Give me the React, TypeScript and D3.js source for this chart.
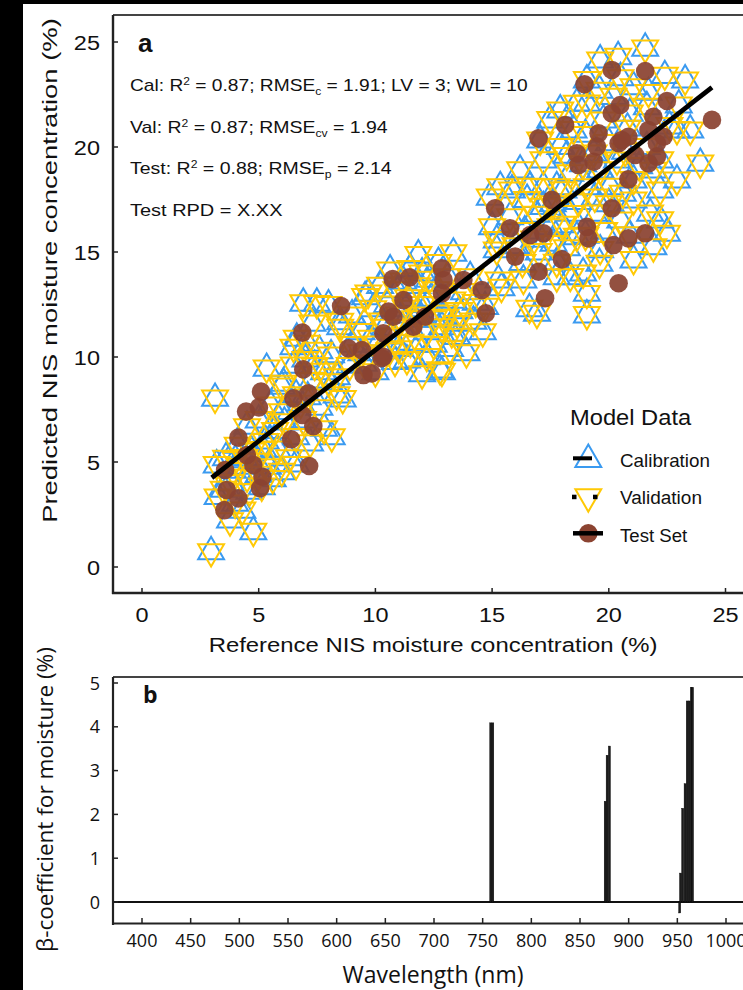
import React, { useLayoutEffect, useRef, useState } from 'react';
import * as d3 from 'd3';

// [reference, predicted in calibration, predicted in cross-validation] (moisture %)
const modelSamples: [number, number, number][] = [
  [2.96, 0.73, 0.73], [4.77, 1.68, 1.7], [3.77, 2.24, 2.2], [3.99, 3.03, 3.05], [4.3, 2.7, 2.72],
  [3.24, 3.35, 3.33], [3.5, 3.7, 3.7], [5.13, 3.82, 3.86], [3.8, 4.0, 4.02], [4.5, 4.3, 4.28],
  [3.2, 4.86, 4.88], [3.6, 5.2, 5.18], [4.2, 4.8, 4.8], [4.9, 5.0, 5.04], [5.4, 4.8, 4.78],
  [5.6, 4.2, 4.22], [5.99, 4.54, 4.56], [6.6, 4.9, 4.88], [4.1, 5.8, 5.8], [4.7, 5.5, 5.52],
  [5.3, 6.0, 5.98], [5.8, 5.6, 5.62], [6.3, 5.2, 5.2], [6.6, 6.2, 6.22], [4.5, 6.7, 6.68],
  [5.0, 7.0, 7.02], [7.2, 5.9, 5.92], [8.13, 6.2, 6.2], [7.8, 6.6, 6.58], [3.13, 8.03, 8.05],
  [5.5, 7.7, 7.72], [6.0, 7.4, 7.4], [6.9, 7.0, 7.02], [7.6, 7.6, 7.58], [8.34, 8.19, 8.2],
  [5.99, 8.6, 8.62], [6.6, 8.2, 8.2], [7.3, 8.9, 8.88], [8.6, 8.0, 8.02], [5.34, 9.46, 9.48],
  [6.06, 8.75, 8.75], [6.5, 9.6, 9.62], [7.0, 9.9, 9.88], [7.8, 9.3, 9.32], [8.34, 9.06, 9.06],
  [6.63, 10.89, 10.9], [6.49, 10.49, 10.47], [7.06, 10.65, 10.66], [7.6, 10.3, 10.32], [8.1, 10.1, 10.1],
  [8.49, 11.68, 11.7], [8.49, 11.44, 11.42], [7.3, 11.6, 11.62], [6.91, 12.56, 12.58], [7.49, 12.56, 12.55],
  [7.99, 12.48, 12.5], [3.9, 4.6, 4.6], [4.4, 5.2, 5.22], [5.0, 4.4, 4.42], [4.6, 3.6, 3.6],
  [5.2, 5.6, 5.6], [4.0, 5.1, 5.12], [5.7, 6.5, 6.5], [6.1, 6.9, 6.92], [6.8, 7.8, 7.8],
  [7.1, 8.1, 8.1], [7.4, 9.6, 9.6], [8.0, 8.8, 8.82],
  [8.9, 9.6, 9.6], [9.5, 9.7, 9.72], [9.0, 10.6, 10.6], [9.4, 11.2, 11.22], [9.0, 12.0, 12.0],
  [9.56, 12.87, 12.88], [9.7, 13.03, 13.05], [10.0, 9.3, 9.3], [10.1, 10.6, 10.62], [10.6, 10.3, 10.3],
  [10.84, 9.78, 9.8], [10.7, 11.0, 11.0], [10.3, 11.7, 11.72], [11.0, 12.0, 12.0], [10.5, 12.5, 12.52],
  [10.9, 13.2, 13.2], [10.2, 13.4, 13.42], [10.63, 14.14, 14.15], [11.35, 9.86, 9.88], [11.5, 10.7, 10.7],
  [12.2, 10.01, 10.03], [12.0, 9.2, 9.2], [12.77, 9.38, 9.4], [12.2, 11.2, 11.2], [11.7, 11.8, 11.82],
  [12.0, 12.5, 12.5], [11.4, 12.8, 12.82], [11.8, 13.4, 13.4], [11.5, 14.2, 14.22], [11.84, 14.86, 14.88],
  [12.6, 13.2, 13.2], [13.1, 13.8, 13.82], [12.7, 14.5, 14.5], [13.34, 14.94, 14.96], [12.9, 12.1, 12.1],
  [13.3, 12.7, 12.72], [13.5, 11.6, 11.6], [13.27, 11.13, 11.15], [12.85, 11.44, 11.44], [13.49, 10.97, 10.99],
  [13.2, 10.4, 10.4], [12.85, 9.3, 9.32], [13.9, 10.2, 10.2], [14.2, 11.7, 11.72], [14.6, 11.2, 11.2],
  [14.7, 12.4, 12.42], [14.3, 12.6, 12.6], [13.8, 13.1, 13.12], [14.06, 13.82, 13.82], [15.4, 13.3, 13.32],
  [9.8, 10.9, 10.9], [10.4, 11.4, 11.42], [11.1, 11.4, 11.4], [11.3, 12.3, 12.32], [11.9, 12.0, 12.0],
  [12.4, 12.8, 12.8], [12.5, 11.8, 11.82], [11.0, 10.4, 10.4], [11.9, 10.6, 10.62], [12.5, 10.6, 10.6],
  [13.0, 11.9, 11.9], [13.6, 12.2, 12.22], [12.3, 13.7, 13.7], [11.2, 13.6, 13.62], [9.9, 12.3, 12.3],
  [9.4, 10.2, 10.2], [12.0, 14.0, 14.0],
  [15.2, 15.1, 15.1], [15.2, 15.57, 15.6], [15.0, 16.2, 16.2], [14.9, 17.6, 17.62], [15.27, 13.67, 13.67],
  [16.34, 13.67, 13.7], [16.92, 12.08, 12.08], [16.6, 12.3, 12.32], [17.77, 13.82, 13.82], [18.35, 13.82, 13.84],
  [19.06, 13.03, 13.03], [19.06, 12.0, 12.02], [19.6, 14.46, 14.46], [21.06, 14.62, 14.64], [17.77, 14.51, 14.51],
  [15.85, 17.95, 17.95], [16.63, 18.11, 18.13], [17.2, 18.11, 18.11], [18.06, 17.95, 17.97], [15.35, 18.11, 18.11],
  [16.2, 18.9, 18.92], [15.77, 16.68, 16.68], [17.2, 17.16, 17.18], [18.35, 16.84, 16.84], [19.49, 16.84, 16.86],
  [20.49, 16.52, 16.52], [18.63, 15.73, 15.75], [17.63, 15.41, 15.41], [19.63, 15.1, 15.12], [21.91, 15.25, 15.25],
  [22.2, 16.52, 16.54], [22.49, 15.89, 15.89], [21.77, 16.84, 16.86], [22.92, 18.43, 18.43], [23.92, 19.22, 19.24],
  [23.49, 20.81, 20.81], [22.92, 20.81, 20.83], [23.27, 23.19, 23.19], [21.56, 24.7, 24.72], [19.63, 24.14, 24.14],
  [19.06, 23.19, 23.21], [17.92, 21.76, 21.76], [17.49, 21.29, 21.31], [17.06, 20.33, 20.33], [17.2, 19.38, 19.4],
  [18.63, 22.08, 22.08], [20.2, 22.4, 22.42], [21.06, 22.87, 22.87], [21.63, 21.92, 21.94], [21.91, 18.9, 18.9],
  [21.06, 18.43, 18.45], [22.2, 17.95, 17.95], [20.06, 18.11, 18.13], [19.06, 18.11, 18.11], [18.35, 18.75, 18.77],
  [17.77, 18.11, 18.11], [19.35, 19.7, 19.72], [20.35, 19.38, 19.38], [19.63, 18.9, 18.92], [17.92, 20.02, 20.02],
  [18.49, 20.81, 20.83], [19.77, 21.29, 21.29], [19.06, 22.08, 22.1], [21.63, 20.02, 20.02], [22.2, 19.38, 19.4],
  [21.06, 17.48, 17.48], [16.4, 16.0, 16.02], [16.9, 16.8, 16.8], [18.0, 16.3, 16.32], [20.0, 17.3, 17.3],
  [20.9, 15.8, 15.82], [23.0, 22.0, 22.0], [22.4, 23.4, 23.42], [20.5, 23.3, 23.3], [22.6, 21.0, 21.02],
  [20.8, 20.9, 20.9], [20.4, 24.3, 24.32], [16.3, 14.5, 14.5], [17.0, 15.0, 15.02], [18.9, 14.0, 14.0],
  [16.0, 15.3, 15.3], [16.8, 15.6, 15.62], [17.5, 16.2, 16.2], [18.2, 15.2, 15.2], [19.0, 15.8, 15.8],
  [19.8, 16.0, 16.02], [20.6, 17.8, 17.8], [19.4, 17.6, 17.62], [18.7, 17.4, 17.4], [17.6, 17.3, 17.3],
  [18.9, 19.2, 19.2], [20.0, 20.2, 20.22], [19.0, 20.6, 20.6], [20.9, 21.6, 21.62], [19.6, 22.7, 22.7],
  [18.2, 19.6, 19.6], [21.3, 19.1, 19.12], [16.5, 17.5, 17.5], [21.7, 22.6, 22.6], [20.7, 19.8, 19.8],
];

// [reference, predicted] for the independent test set
const testSet: [number, number][] = [
  [3.53, 2.71], [4.13, 3.27], [3.63, 3.67], [5.06, 3.75], [5.16, 4.3], [3.56, 4.62], [4.77, 4.86],
  [4.49, 5.33], [4.13, 6.16], [7.16, 4.81], [6.39, 6.08], [7.34, 6.71], [6.87, 7.24], [4.46, 7.4],
  [5.01, 7.6], [6.49, 8.03], [7.13, 8.27], [5.1, 8.35], [6.91, 9.41], [6.87, 11.16], [8.53, 12.43],
  [8.84, 10.41], [9.42, 10.33], [9.49, 9.14], [9.84, 9.22], [10.27, 9.94], [10.34, 11.13], [10.77, 11.92],
  [10.56, 12.16], [11.2, 12.71], [11.63, 11.44], [12.13, 11.92], [12.85, 13.03], [10.74, 13.71], [11.46, 13.79],
  [12.85, 14.22], [12.92, 13.67], [13.77, 13.67], [14.56, 13.19], [14.73, 12.08], [15.13, 17.08], [15.77, 16.13],
  [15.99, 14.78], [16.63, 15.81], [17.2, 15.89], [16.99, 14.06], [17.27, 12.8], [17.56, 17.48], [17.99, 14.65],
  [19.06, 16.2], [19.13, 15.65], [20.13, 17.08], [20.2, 15.33], [20.84, 15.65], [21.56, 15.89], [20.42, 13.51],
  [20.13, 23.67], [21.56, 23.62], [18.96, 22.99], [22.49, 22.19], [20.49, 22.0], [20.13, 21.6], [21.91, 21.44],
  [24.42, 21.29], [18.13, 21.05], [16.99, 20.41], [19.56, 20.65], [20.84, 20.49], [20.42, 20.18], [19.49, 20.02],
  [21.7, 20.81], [22.35, 20.49], [22.06, 20.18], [18.63, 19.7], [18.7, 19.14], [19.35, 19.3], [21.13, 19.62],
  [21.7, 19.22], [22.06, 19.54], [20.84, 18.46], [20.56, 20.33], [10.34, 10.01],
];

const fitLine: [number, number][] = [[2.99, 4.25], [24.42, 22.84]];
const moistureTicks = [0, 5, 10, 15, 20, 25];

// [wavelength nm, beta coefficient]
const betaBars: [number, number][] = [
  [758.3, 4.09], [760.4, 4.09], [875.9, 2.3], [877.9, 3.35], [880.2, 3.56],
  [952.4, -0.25], [953.3, 0.66], [955.5, 2.14], [958.0, 2.7], [960.2, 4.59],
  [962.3, 4.59], [964.4, 4.9], [965.6, 4.9],
];
const wavelengthTicks = [400, 450, 500, 550, 600, 650, 700, 750, 800, 850, 900, 950, 1000];
const betaTicks = [0, 1, 2, 3, 4, 5];

const W = 743;
const H = 990;
const SANS = 'Liberation Sans, Arial, sans-serif';
const OPEN = '"Open Sans", "DejaVu Sans", sans-serif';
const BLUE = '#3a9af0';
const YELLOW = '#ffc905';
const BROWN = '#8b4331';

// panel a
const xA = d3.scaleLinear().domain([0, 25]).range([142, 725.5]);
const yA = d3.scaleLinear().domain([0, 25]).range([567, 42]);
// panel b
const xB = d3.scaleLinear().domain([400, 1000]).range([142, 726]);
const yB = d3.scaleLinear().domain([0, 5]).range([902, 683]);

const tri = d3.symbol().type(d3.symbolTriangle).size(290)() as string;
const line = d3.line<[number, number]>().x(d => xA(d[0])).y(d => yA(d[1]));

// text stretched horizontally to a measured width
const FitText = ({ x, y, width, rotate = 0, anchor = 'start', size, family, weight = 'normal', children }: any) => {
  const ref = useRef<SVGTextElement>(null);
  const [k, setK] = useState(1);
  useLayoutEffect(() => {
    const w = ref.current ? ref.current.getBBox().width : 0;
    if (w > 0) setK(width / w);
  }, [width]);
  return (
    <g transform={`translate(${x},${y}) rotate(${rotate}) scale(${k},1)`}>
      <text ref={ref} textAnchor={anchor} fontSize={size} fontFamily={family} fontWeight={weight} fill="#111">
        {children}
      </text>
    </g>
  );
};

// one stats line: head R^2 mid RMSE_sub tail
const StatLine = ({ y, width, head, r2, sub, tail }: any) => (
  <FitText x={130} y={y} width={width} size={16} family={SANS}>
    <tspan>{head}</tspan>
    <tspan dy={-6} fontSize={10}>2</tspan>
    <tspan dy={6}>{` = ${r2}; RMSE`}</tspan>
    <tspan dy={4} fontSize={10}>{sub}</tspan>
    <tspan dy={-4}>{tail}</tspan>
  </FitText>
);

export default function App() {
  return (
    <svg width={W} height={H} style={{ position: 'absolute', left: 0, top: 0, display: 'block' }}>
      <rect width={W} height={H} fill="#000" />
      <rect x={23} y={4} width={W - 23} height={H - 4} fill="#fff" />

      {/* ---------- panel a ---------- */}
      <line x1={113} x2={W} y1={15} y2={15} stroke="#444" strokeWidth={1.8} />
      <line x1={113} x2={113} y1={15} y2={594} stroke="#222" strokeWidth={2.4} />
      <line x1={112} x2={W} y1={593} y2={593} stroke="#222" strokeWidth={2.4} />
      {moistureTicks.map(t => (
        <g key={'ya' + t}>
          <line x1={113} x2={118} y1={yA(t)} y2={yA(t)} stroke="#222" strokeWidth={1.5} />
          <text transform={`translate(100,${yA(t) + 7.5}) scale(1.12,1)`} textAnchor="end" fontSize={21} fontFamily={SANS} fill="#111">{t}</text>
        </g>
      ))}
      {moistureTicks.map(t => (
        <g key={'xa' + t}>
          <line x1={xA(t)} x2={xA(t)} y1={593} y2={588} stroke="#222" strokeWidth={1.5} />
          <text transform={`translate(${xA(t)},622) scale(1.12,1)`} textAnchor="middle" fontSize={21} fontFamily={SANS} fill="#111">{t}</text>
        </g>
      ))}
      <FitText x={433} y={652} width={449} anchor="middle" size={21} family={SANS}>
        Reference NIS moisture concentration (%)
      </FitText>
      <FitText x={57} y={270.5} width={505} rotate={-90} anchor="middle" size={21} family={SANS}>
        Predicted NIS moisture concentration (%)
      </FitText>

      {/* calibration (up) and validation (down) triangles */}
      {modelSamples.map((d, i) => (
        <path key={'c' + i} d={tri} transform={`translate(${xA(d[0])},${yA(d[1])})`} fill="none" stroke={BLUE} strokeWidth={2} />
      ))}
      {modelSamples.map((d, i) => (
        <path key={'v' + i} d={tri} transform={`translate(${xA(d[0])},${yA(d[2])}) rotate(180)`} fill="none" stroke={YELLOW} strokeWidth={2} />
      ))}
      {testSet.map((d, i) => (
        <circle key={'t' + i} cx={xA(d[0])} cy={yA(d[1])} r={9.3} fill={BROWN} fillOpacity={0.93} />
      ))}
      <path d={line(fitLine) as string} stroke="#000" strokeWidth={4.8} fill="none" />

      <text x={138} y={52} fontSize={26} fontWeight="bold" fontFamily={SANS} fill="#111">a</text>
      <StatLine y={91} width={398} head="Cal: R" r2="0.87" sub="c" tail=" = 1.91; LV = 3; WL = 10" />
      <StatLine y={132.5} width={258} head="Val: R" r2="0.87" sub="cv" tail=" = 1.94" />
      <StatLine y={174} width={262} head="Test: R" r2="0.88" sub="p" tail=" = 2.14" />
      <FitText x={130} y={216} width={153} size={16} family={SANS}>
        Test RPD = X.XX
      </FitText>

      {/* legend */}
      <FitText x={570} y={425} width={122} size={22} family={SANS}>Model Data</FitText>
      <path d={tri} transform="translate(588.3,459.5)" fill="none" stroke={BLUE} strokeWidth={2} />
      <line x1={573} x2={592} y1={458.3} y2={458.3} stroke="#000" strokeWidth={4} />
      <path d={tri} transform="translate(588.3,496.7) rotate(180)" fill="none" stroke={YELLOW} strokeWidth={2} />
      <rect x={572} y={494.7} width={4.5} height={4.5} fill="#000" />
      <rect x={593} y={494.7} width={4.5} height={4.5} fill="#000" />
      <circle cx={588.3} cy={533.3} r={9.3} fill={BROWN} />
      <line x1={573} x2={603} y1={533.3} y2={533.3} stroke="#000" strokeWidth={4.5} />
      <FitText x={620} y={466.7} width={90} size={19} family={SANS}>Calibration</FitText>
      <FitText x={620} y={504} width={82} size={19} family={SANS}>Validation</FitText>
      <FitText x={620} y={541.7} width={68} size={19} family={SANS}>Test Set</FitText>

      {/* ---------- panel b ---------- */}
      <line x1={113} x2={W} y1={677} y2={677} stroke="#444" strokeWidth={1.8} />
      <line x1={113} x2={113} y1={677} y2={925} stroke="#222" strokeWidth={2.2} />
      <line x1={112} x2={W} y1={923.5} y2={923.5} stroke="#222" strokeWidth={2.2} />
      <line x1={113} x2={W} y1={yB(0)} y2={yB(0)} stroke="#111" strokeWidth={1.8} />
      {betaTicks.map(t => (
        <g key={'yb' + t}>
          <line x1={113} x2={118} y1={yB(t)} y2={yB(t)} stroke="#222" strokeWidth={1.5} />
          <text x={100} y={yB(t) + 6.5} textAnchor="end" fontSize={18} fontFamily={OPEN} fill="#111">{t}</text>
        </g>
      ))}
      {wavelengthTicks.map(t => (
        <g key={'xb' + t}>
          <line x1={xB(t)} x2={xB(t)} y1={923} y2={918} stroke="#222" strokeWidth={1.5} />
          <text x={xB(t)} y={947} textAnchor="middle" fontSize={18} fontFamily={OPEN} fill="#111">{t}</text>
        </g>
      ))}
      {betaBars.map((d, i) => (
        <rect
          key={'b' + i}
          x={xB(d[0] - 1.05)}
          width={xB(d[0] + 1.05) - xB(d[0] - 1.05)}
          y={yB(Math.max(0, d[1]))}
          height={Math.abs(yB(d[1]) - yB(0))}
          fill="#1c1c1c"
          stroke="#000"
          strokeWidth={0.4}
        />
      ))}
      <text x={143} y={703} fontSize={23} fontWeight="bold" fontFamily={OPEN} fill="#111">b</text>
      <FitText x={433} y={983} width={181} anchor="middle" size={23} family={OPEN}>Wavelength (nm)</FitText>
      <FitText x={53} y={799.5} width={305} rotate={-90} anchor="middle" size={21} family={OPEN}>
        β-coefficient for moisture (%)
      </FitText>
    </svg>
  );
}
